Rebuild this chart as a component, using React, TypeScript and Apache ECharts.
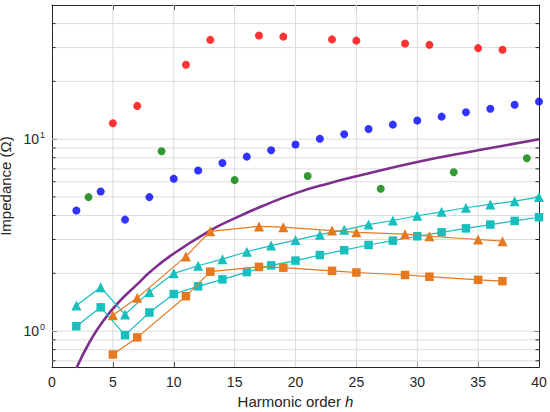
import React, { useEffect, useRef } from "react";
import * as echarts from "echarts";

// Harmonic orders
const hOdd = [5, 7, 11, 13, 17, 19, 23, 25, 29, 31, 35, 37];
const hEven = [2, 4, 6, 8, 10, 12, 14, 16, 18, 20, 22, 24, 26, 28, 30, 32, 34, 36, 38, 40];
const hGreen = [3, 9, 15, 21, 27, 33, 39];

// Scatter dots
const zRed = [12.1, 14.9, 24.4, 32.9, 34.7, 34.2, 33.1, 32.6, 31.5, 31.0, 29.8, 29.2];
const zBlue = [4.25, 5.34, 3.81, 4.99, 6.22, 6.86, 7.51, 8.11, 8.75, 9.38, 10.04, 10.6, 11.3, 11.9, 12.5, 13.1, 13.8, 14.4, 15.1, 15.7];
const zGreen = [4.99, 8.65, 6.12, 6.43, 5.52, 6.72, 7.96];

// Connected series
const zCyanTri = [1.36, 1.69, 1.22, 1.6, 2.0, 2.19, 2.37, 2.59, 2.79, 2.98, 3.18, 3.37, 3.59, 3.77, 3.99, 4.18, 4.39, 4.57, 4.75, 4.99];
const zCyanSq = [1.06, 1.33, 0.953, 1.25, 1.56, 1.71, 1.86, 2.03, 2.2, 2.33, 2.49, 2.64, 2.81, 2.96, 3.12, 3.27, 3.43, 3.59, 3.75, 3.92];
const zOrangeTri = [1.21, 1.49, 2.45, 3.31, 3.51, 3.48, 3.34, 3.27, 3.2, 3.12, 3.0, 2.94];
const zOrangeSq = [0.755, 0.927, 1.52, 2.04, 2.16, 2.14, 2.06, 2.02, 1.96, 1.92, 1.85, 1.82];

// Purple curve
const hPurple = [2.0, 3.1, 4.2, 5.6, 6.95, 8.05, 9.7, 12.97, 14.9, 17.35, 20.1, 22.8, 25, 30, 35, 40];
const zPurple = [0.64, 0.88, 1.13, 1.44, 1.74, 2.03, 2.46, 3.34, 3.84, 4.5, 5.25, 5.9, 6.4, 7.6, 8.75, 10.0];

// Axis ticks / grid
const xTicks = { min: 0, max: 40, interval: 5 };
const xGrid = [5, 10, 15, 20, 25, 30, 35];
const yRange = { min: 0.65, max: 50 };
const yMajor = [1, 10];
const yMinor = [0.7, 0.8, 0.9, 2, 3, 4, 5, 6, 7, 8, 9, 20, 30, 40];

const FONT = "'Liberation Sans', Arial, Helvetica, sans-serif";
const AX = "#262626";
const GRID = "#dcdcdc";

const zip = (xs: number[], ys: number[]) => xs.map((x, i) => [x, ys[i]]);

export default function App() {
  const ref = useRef<HTMLDivElement>(null);
  useEffect(() => {
    document.body.style.margin = "0";
    const chart = echarts.init(ref.current!, null, { renderer: "svg" });
    const mkLine = () => ({ show: true, onZero: false, lineStyle: { color: AX, width: 1 } });
    const mkTick = () => ({ show: true, inside: true, length: 5, lineStyle: { color: AX, width: 1 } });
    const gridItems = [
      ...xGrid.map((v) => [v, 1, 0]),
      ...yMajor.map((v) => [0, v, 1]),
      ...yMinor.map((v) => [0, v, 2]),
    ];
    const option: any = {
      animation: false,
      backgroundColor: "#ffffff",
      textStyle: { fontFamily: FONT },
      grid: { left: 52, right: 11, top: 5, bottom: 45, containLabel: false, outerBoundsMode: "none" },
      xAxis: [
        {
          type: "value",
          ...xTicks,
          position: "bottom",
          name: "Harmonic order {i|h}",
          nameLocation: "middle",
          nameGap: 26,
          nameTextStyle: {
            fontFamily: FONT,
            fontSize: 15,
            color: AX,
            rich: { i: { fontStyle: "italic", fontFamily: FONT, fontSize: 15, color: AX } },
          },
          axisLine: mkLine(),
          axisTick: mkTick(),
          axisLabel: { fontFamily: FONT, fontSize: 14, color: AX, margin: 8 },
          splitLine: { show: false },
        },
        {
          type: "value",
          ...xTicks,
          position: "top",
          axisLine: mkLine(),
          axisTick: mkTick(),
          axisLabel: { show: false },
          splitLine: { show: false },
        },
      ],
      yAxis: [
        {
          type: "log",
          logBase: 10,
          ...yRange,
          position: "left",
          name: "Impedance (Ω)",
          nameLocation: "middle",
          nameGap: 27,
          nameTextStyle: { fontFamily: FONT, fontSize: 15, lineHeight: 15, color: AX },
          axisLine: mkLine(),
          axisTick: mkTick(),
          axisLabel: {
            margin: 7,
            formatter: (v: number) =>
              Math.abs(v - 1) < 1e-6 ? "{b|10}{s|0}" : Math.abs(v - 10) < 1e-6 ? "{b|10}{s|1}" : "",
            rich: {
              b: { fontFamily: FONT, fontSize: 14, color: AX, lineHeight: 18 },
              s: { fontFamily: FONT, fontSize: 9, color: AX, lineHeight: 10, verticalAlign: "top", padding: [0, 0, 0, 1] },
            },
          },
          splitLine: { show: false },
        },
        {
          type: "log",
          logBase: 10,
          ...yRange,
          position: "right",
          axisLine: mkLine(),
          axisTick: mkTick(),
          axisLabel: { show: false },
          splitLine: { show: false },
        },
      ],
      series: [
        {
          type: "custom",
          xAxisIndex: 0,
          yAxisIndex: 0,
          silent: true,
          z: 1,
          data: gridItems,
          encode: { x: 0, y: 1 },
          renderItem: (params: any, api: any) => {
            const cs = params.coordSys;
            const kind = api.value(2);
            const x0 = cs.x;
            const x1 = cs.x + cs.width;
            if (kind === 0) {
              const x = api.coord([api.value(0), 1])[0];
              return {
                type: "line",
                shape: { x1: x, y1: cs.y, x2: x, y2: cs.y + cs.height },
                style: { stroke: GRID, lineWidth: 1 },
              };
            }
            const y = api.coord([0, api.value(1)])[1];
            const children: any[] = [
              { type: "line", shape: { x1: x0, y1: y, x2: x1, y2: y }, style: { stroke: GRID, lineWidth: 1 } },
            ];
            if (kind === 2) {
              children.push(
                { type: "line", shape: { x1: x0, y1: y, x2: x0 + 3.5, y2: y }, style: { stroke: AX, lineWidth: 1 } },
                { type: "line", shape: { x1: x1 - 3.5, y1: y, x2: x1, y2: y }, style: { stroke: AX, lineWidth: 1 } }
              );
            }
            return { type: "group", children };
          },
        },
        {
          type: "line",
          data: zip(hPurple, zPurple),
          showSymbol: false,
          symbol: "none",
          smooth: 0.5,
          lineStyle: { color: "#7e2f8e", width: 2.6 },
          z: 2,
        },
        {
          type: "line",
          data: zip(hEven, zCyanTri),
          symbol: "triangle",
          symbolSize: 10,
          itemStyle: { color: "#17bfbf" },
          lineStyle: { color: "#17bfbf", width: 1.2 },
          z: 3,
        },
        {
          type: "line",
          data: zip(hEven, zCyanSq),
          symbol: "rect",
          symbolSize: 8.5,
          itemStyle: { color: "#17bfbf" },
          lineStyle: { color: "#17bfbf", width: 1.2 },
          z: 3,
        },
        {
          type: "line",
          data: zip(hOdd, zOrangeTri),
          symbol: "triangle",
          symbolSize: 10,
          itemStyle: { color: "#e6781e" },
          lineStyle: { color: "#e6781e", width: 1.2 },
          z: 4,
        },
        {
          type: "line",
          data: zip(hOdd, zOrangeSq),
          symbol: "rect",
          symbolSize: 8.5,
          itemStyle: { color: "#e6781e" },
          lineStyle: { color: "#e6781e", width: 1.2 },
          z: 4,
        },
        {
          type: "scatter",
          data: zip(hOdd, zRed),
          symbol: "circle",
          symbolSize: 8,
          itemStyle: { color: "#ff0000" },
          z: 5,
        },
        {
          type: "scatter",
          data: zip(hEven, zBlue),
          symbol: "circle",
          symbolSize: 8,
          itemStyle: { color: "#0000ff" },
          z: 5,
        },
        {
          type: "scatter",
          data: zip(hGreen, zGreen),
          symbol: "circle",
          symbolSize: 8,
          itemStyle: { color: "#008000" },
          z: 5,
        },
      ],
    };
    chart.setOption(option);
    return () => chart.dispose();
  }, []);
  return <div ref={ref} style={{ width: 550, height: 412 }} />;
}
